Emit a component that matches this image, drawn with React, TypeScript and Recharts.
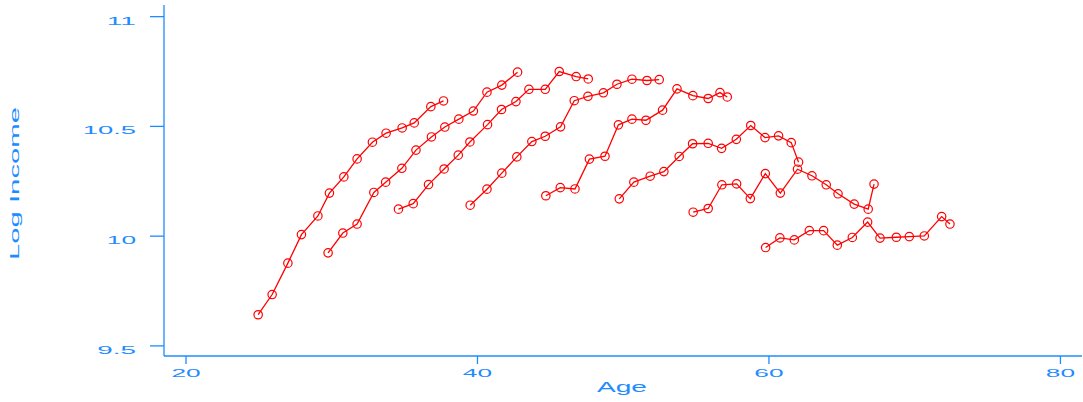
import { Scatter, ScatterChart, XAxis, YAxis } from "recharts";

const AXIS_BLUE = "#1e8cff";
const LINE_RED = "#ff0000";

const ageTicks = [20, 40, 60, 80];
const logIncomeTicks = [9.5, 10, 10.5, 11];

// mean age and mean log income per survey year, one pair of arrays per birth cohort
const cohort1Age = [24.95, 25.91, 26.99, 27.92, 29.05, 29.84, 30.83, 31.74, 32.79, 33.73, 34.83, 35.66, 36.8, 37.67];
const cohort1LogIncome = [9.642, 9.734, 9.877, 10.007, 10.092, 10.196, 10.27, 10.352, 10.428, 10.469, 10.493, 10.516, 10.59, 10.616];

const cohort2Age = [29.75, 30.76, 31.74, 32.89, 33.7, 34.81, 35.78, 36.84, 37.76, 38.72, 39.72, 40.65, 41.67, 42.75];
const cohort2LogIncome = [9.924, 10.014, 10.055, 10.199, 10.246, 10.309, 10.392, 10.452, 10.497, 10.533, 10.57, 10.656, 10.688, 10.747];

const cohort3Age = [34.58, 35.59, 36.64, 37.71, 38.68, 39.48, 40.69, 41.65, 42.64, 43.53, 44.65, 45.61, 46.77, 47.6];
const cohort3LogIncome = [10.123, 10.148, 10.235, 10.306, 10.369, 10.429, 10.508, 10.577, 10.613, 10.669, 10.669, 10.75, 10.727, 10.716];

const cohort4Age = [39.5, 40.65, 41.67, 42.7, 43.73, 44.65, 45.7, 46.64, 47.58, 48.64, 49.57, 50.6, 51.63, 52.47];
const cohort4LogIncome = [10.141, 10.214, 10.287, 10.361, 10.431, 10.455, 10.498, 10.617, 10.637, 10.653, 10.692, 10.715, 10.709, 10.713];

const cohort5Age = [44.69, 45.68, 46.69, 47.68, 48.75, 49.67, 50.6, 51.56, 52.7, 53.69, 54.78, 55.83, 56.64, 57.14];
const cohort5LogIncome = [10.184, 10.221, 10.215, 10.351, 10.364, 10.507, 10.533, 10.528, 10.574, 10.671, 10.64, 10.627, 10.654, 10.634];

const cohort6Age = [49.73, 50.73, 51.85, 52.79, 53.84, 54.76, 55.83, 56.75, 57.76, 58.75, 59.73, 60.66, 61.53, 62.03];
const cohort6LogIncome = [10.17, 10.246, 10.273, 10.294, 10.363, 10.421, 10.423, 10.4, 10.441, 10.504, 10.449, 10.457, 10.426, 10.337];

const cohort7Age = [54.8, 55.83, 56.77, 57.78, 58.72, 59.75, 60.78, 61.96, 62.95, 63.93, 64.74, 65.85, 66.81, 67.21];
const cohort7LogIncome = [10.109, 10.126, 10.234, 10.238, 10.171, 10.285, 10.196, 10.305, 10.275, 10.234, 10.193, 10.146, 10.123, 10.237];

const cohort8Age = [59.77, 60.75, 61.74, 62.77, 63.75, 64.69, 65.72, 66.77, 67.62, 68.74, 69.63, 70.66, 71.85, 72.42];
const cohort8LogIncome = [9.948, 9.992, 9.983, 10.025, 10.025, 9.959, 9.994, 10.064, 9.991, 9.995, 9.998, 10.001, 10.089, 10.055];

const cohorts = [
  [cohort1Age, cohort1LogIncome],
  [cohort2Age, cohort2LogIncome],
  [cohort3Age, cohort3LogIncome],
  [cohort4Age, cohort4LogIncome],
  [cohort5Age, cohort5LogIncome],
  [cohort6Age, cohort6LogIncome],
  [cohort7Age, cohort7LogIncome],
  [cohort8Age, cohort8LogIncome],
].map(([ages, incomes]) => ages.map((age, i) => ({ age, logIncome: incomes[i] })));

const FONT = "'Liberation Sans', Arial, sans-serif";

// wide, stretched lettering for the axis text
function stretchedWidth(label: string, digitWidth: number) {
  let w = 0;
  for (const ch of label) w += ch === "." ? digitWidth * 0.65 : digitWidth;
  return w;
}

function YTick({ x, y, payload }: any) {
  const label = String(payload.value);
  return (
    <text
      x={x}
      y={y + 8}
      textAnchor="end"
      fill={AXIS_BLUE}
      fontFamily={FONT}
      fontSize={11}
      textLength={stretchedWidth(label, 14.6)}
      lengthAdjust="spacingAndGlyphs"
    >
      {label}
    </text>
  );
}

function XTick({ x, y, payload }: any) {
  const label = String(payload.value);
  return (
    <text
      x={x}
      y={y + 7}
      textAnchor="middle"
      fill={AXIS_BLUE}
      fontFamily={FONT}
      fontSize={11}
      textLength={stretchedWidth(label, 14.6)}
      lengthAdjust="spacingAndGlyphs"
    >
      {label}
    </text>
  );
}

function HollowCircle({ cx, cy }: any) {
  return <circle cx={cx} cy={cy} r={4.2} fill="none" stroke={LINE_RED} strokeWidth={1.2} />;
}

export default function App() {
  return (
    <div style={{ position: "absolute", left: 0, top: 0, background: "#fff" }}>
      <ScatterChart width={1083} height={402} margin={{ top: 5, right: 1, bottom: 0, left: 0 }}>
        <XAxis
          type="number"
          dataKey="age"
          domain={[18.49, 81.48]}
          ticks={ageTicks}
          allowDataOverflow
          height={46}
          stroke={AXIS_BLUE}
          strokeWidth={1.3}
          tickSize={8}
          tickMargin={6}
          tick={(props: any) => <XTick {...props} />}
          label={{
            value: "Age",
            content: () => (
              <text
                x={622}
                y={392}
                textAnchor="middle"
                fill={AXIS_BLUE}
                fontFamily={FONT}
                fontSize={14}
                textLength={50}
                lengthAdjust="spacingAndGlyphs"
              >
                Age
              </text>
            ),
          }}
        />
        <YAxis
          type="number"
          dataKey="logIncome"
          domain={[9.454, 11.053]}
          ticks={logIncomeTicks}
          allowDataOverflow
          width={164}
          stroke={AXIS_BLUE}
          strokeWidth={1.3}
          tickSize={14}
          tickMargin={14}
          tick={(props: any) => <YTick {...props} />}
          label={{
            value: "Log Income",
            content: () => (
              <text
                x={19}
                y={183.5}
                transform="rotate(-90 19 183.5)"
                textAnchor="middle"
                fill={AXIS_BLUE}
                fontFamily={FONT}
                fontSize={13}
                textLength={153}
                lengthAdjust="spacingAndGlyphs"
              >
                Log Income
              </text>
            ),
          }}
        />
        {cohorts.map((points, i) => (
          <Scatter
            key={i}
            data={points}
            line={{ stroke: LINE_RED, strokeWidth: 1.3 }}
            lineType="joint"
            shape={(props: any) => <HollowCircle {...props} />}
            isAnimationActive={false}
          />
        ))}
      </ScatterChart>
    </div>
  );
}
